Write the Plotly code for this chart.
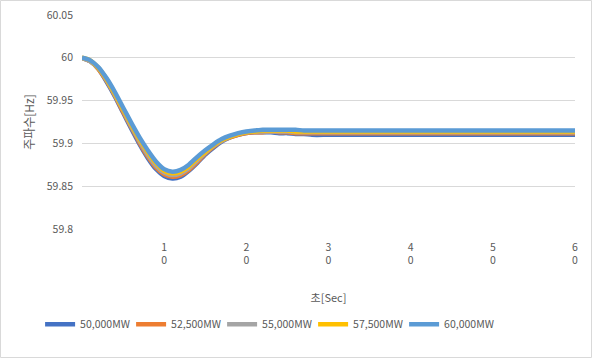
import plotly.graph_objects as go

time_s = [0, 1, 2, 3, 4, 5, 6, 7, 8, 9, 10, 11, 12, 13, 14, 15, 16, 17, 18, 19, 20,
          21, 22, 23, 24, 25, 26, 27, 28, 30, 40, 50, 60]

f_50000 = [60.000, 59.996, 59.987, 59.972, 59.955, 59.936, 59.917, 59.899, 59.883, 59.870,
           59.862, 59.859, 59.861, 59.868, 59.877, 59.887, 59.895, 59.902, 59.907, 59.910,
           59.912, 59.913, 59.913, 59.913, 59.912, 59.912, 59.911, 59.911, 59.910, 59.910,
           59.910, 59.910, 59.910]
f_52500 = [60.000, 59.996, 59.987, 59.973, 59.956, 59.937, 59.919, 59.901, 59.885, 59.872,
           59.864, 59.861, 59.863, 59.869, 59.878, 59.888, 59.896, 59.903, 59.907, 59.910,
           59.912, 59.913, 59.913, 59.914, 59.913, 59.913, 59.912, 59.912, 59.912, 59.912,
           59.912, 59.912, 59.912]
f_55000 = [60.000, 59.996, 59.988, 59.974, 59.957, 59.939, 59.920, 59.903, 59.887, 59.874,
           59.866, 59.863, 59.865, 59.871, 59.880, 59.889, 59.897, 59.903, 59.908, 59.911,
           59.913, 59.914, 59.914, 59.914, 59.914, 59.914, 59.913, 59.913, 59.913, 59.913,
           59.913, 59.913, 59.913]
f_57500 = [60.000, 59.997, 59.988, 59.975, 59.958, 59.940, 59.922, 59.905, 59.890, 59.877,
           59.868, 59.865, 59.867, 59.873, 59.882, 59.890, 59.898, 59.904, 59.908, 59.911,
           59.913, 59.914, 59.915, 59.915, 59.915, 59.915, 59.914, 59.914, 59.914, 59.914,
           59.914, 59.914, 59.914]
f_60000 = [60.000, 59.997, 59.989, 59.976, 59.960, 59.942, 59.924, 59.907, 59.892, 59.879,
           59.870, 59.867, 59.869, 59.875, 59.884, 59.892, 59.899, 59.905, 59.909, 59.912,
           59.914, 59.915, 59.916, 59.916, 59.916, 59.916, 59.916, 59.915, 59.915, 59.915,
           59.915, 59.915, 59.915]

series_names = ["50,000MW", "52,500MW", "55,000MW", "57,500MW", "60,000MW"]
series_values = [f_50000, f_52500, f_55000, f_57500, f_60000]
series_colors = ["#4472C4", "#ED7D31", "#A5A5A5", "#FFC000", "#5B9BD5"]

x_tick_vals = [10, 20, 30, 40, 50, 60]
x_tick_text = ["1<br>0", "2<br>0", "3<br>0", "4<br>0", "5<br>0", "6<br>0"]
y_tick_vals = [59.8, 59.85, 59.9, 59.95, 60.0, 60.05]
y_tick_text = ["59.8", "59.85", "59.9", "59.95", "60", "60.05"]

FONT = "Noto Sans CJK KR, Noto Sans, sans-serif"
GRAY = "#595959"

fig = go.Figure()
for name, vals, col in zip(series_names, series_values, series_colors):
    fig.add_trace(go.Scatter(x=time_s, y=vals, mode="lines", name=name,
                             line=dict(color=col, width=4.5, shape="spline", smoothing=0.6)))

fig.update_layout(
    width=592, height=358,
    margin=dict(l=82, r=17, t=15, b=129, autoexpand=False),
    paper_bgcolor="white", plot_bgcolor="white",
    font=dict(family=FONT, size=10.5, color=GRAY),
    showlegend=True,
    legend=dict(orientation="h", x=-0.085, xanchor="left", y=-0.445, yanchor="middle",
                entrywidth=46, entrywidthmode="pixels", itemwidth=30,
                font=dict(size=10.5, color=GRAY), traceorder="normal"),
    xaxis=dict(range=[0, 60], tickvals=x_tick_vals, ticktext=x_tick_text,
               showgrid=False, zeroline=False, showline=False, ticks="",
               ticklabelstandoff=10, automargin=False,
               title=dict(text="초[Sec]", standoff=28, font=dict(size=11, color=GRAY))),
    yaxis=dict(range=[59.8, 60.05], tickvals=y_tick_vals, ticktext=y_tick_text,
               showgrid=True, gridcolor="#D9D9D9", gridwidth=1, zeroline=False,
               showline=False, ticks="", ticklabelstandoff=8, automargin=False,
               title=dict(text="주파수[Hz]", standoff=9, font=dict(size=12, color=GRAY))),
    shapes=[dict(type="rect", xref="paper", yref="paper",
                 x0=-81.5/493, x1=(493+16.5)/493, y0=-128.5/214, y1=(214+14.5)/214,
                 line=dict(color="#D9D9D9", width=1), fillcolor="rgba(0,0,0,0)", layer="below")],
)

fig.write_html("out.html", config={"displayModeBar": False},
               post_script="document.body.style.margin='0';")
